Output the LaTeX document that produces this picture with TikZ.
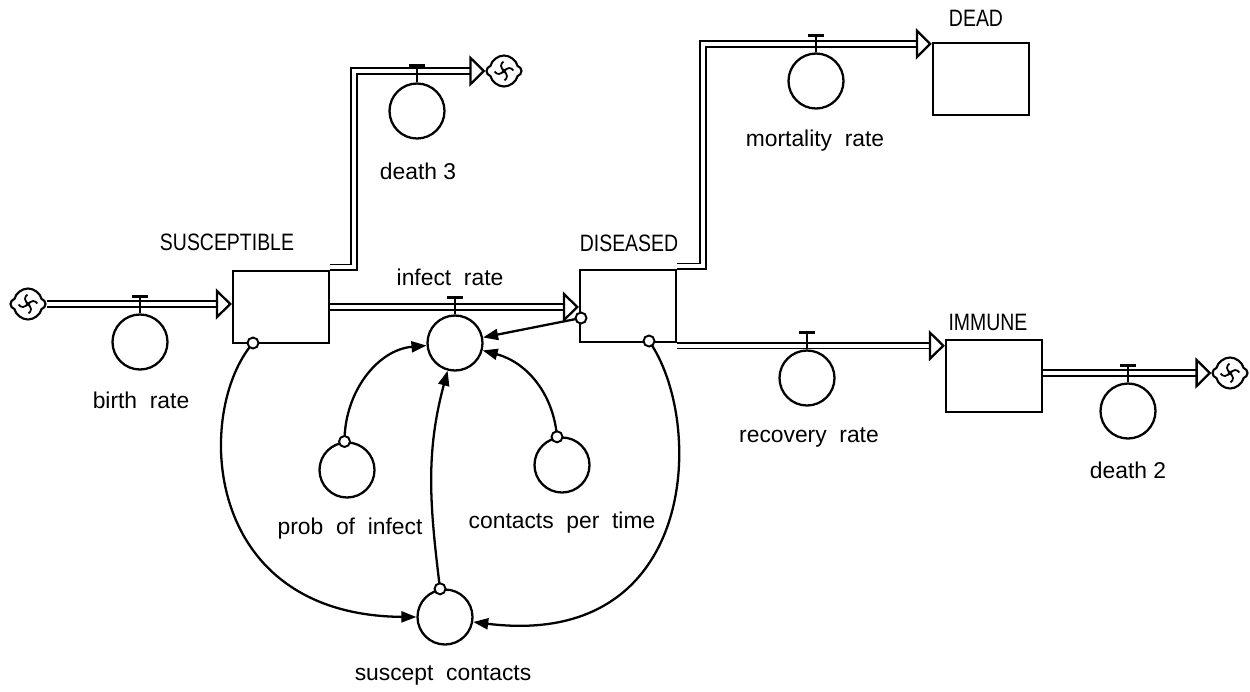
\documentclass[tikz,border=0pt]{standalone}
\usepackage{fontspec}
\setmainfont{Liberation Sans}
\newfontfamily\stockfont[FakeStretch=0.82]{Liberation Sans}
\usetikzlibrary{arrows.meta,shapes.symbols}

\tikzset{
  stock/.style={draw, rectangle, line width=1.3pt, minimum width=1.92cm, minimum height=1.43cm, inner sep=0pt},
  conv/.style={draw, circle, line width=1.3pt, minimum size=1.1cm, inner sep=0pt},
  src/.style={draw, cloud, cloud puffs=4, cloud puff arc=150, aspect=1.1, line width=1.2pt, minimum width=0.7cm, minimum height=0.62cm, inner sep=0pt},
  tap/.style={draw, circle, line width=1.1pt, fill=white, minimum size=0.22cm, inner sep=0pt},
  flow/.style={double, double distance=2.2pt, line width=1pt, line join=miter, -{Triangle[open, length=0.32cm, width=0.62cm, line width=1.3pt]}},
  link/.style={line width=1.3pt, -{Triangle[length=0.3cm, width=0.22cm]}},
  lbl/.style={font=\fontsize{13}{15}\selectfont, inner sep=1pt},
  slbl/.style={font=\stockfont\fontsize{13.5}{15}\selectfont, inner sep=1pt},
}

\begin{document}
\begin{tikzpicture}[x=0.02cm, y=0.02cm]
  \useasboundingbox (0,0) rectangle (1250,-691);

  % Stocks
  \node[stock] (susc) at (281,-307) {};
  \node[slbl] (suscL) at (227,-242) {SUSCEPTIBLE};
  \node[stock] (dis) at (628,-306) {};
  \node[slbl] (disL) at (629,-243) {DISEASED};
  \node[stock] (dead) at (981,-79) {};
  \node[slbl] (deadL) at (976,-18) {DEAD};
  \node[stock] (imm) at (994,-376) {};
  \node[slbl] (immL) at (988,-322) {IMMUNE};

  % Sources and sinks
  \node[src] (cB) at (28,-304) {};
  \node[src] (cD3) at (504,-71) {};
  \node[src] (cD2) at (1230,-373) {};
  \foreach \c in {cB,cD3,cD2}
    \foreach \a in {0,90,180,270}
      \draw[line width=1pt] (\c.center) ++(\a:0.04cm) arc[start angle=\a-90, delta angle=-150, radius=0.1cm];

  % Flows
  \draw[flow] (cB.east) -- (cB.east -| susc.west);
  \draw[flow] ([yshift=1.6pt]susc.north east) -- ++(24,0) |- (cD3.west);
  \draw[flow] (susc.east) -- (susc.east -| dis.west);
  \draw[flow] ([yshift=1.6pt]dis.north east) -- ++(26,0) |- ([yshift=-1pt]dead.north west);
  \draw[flow] ([yshift=-1.6pt]dis.south east) -- ([yshift=-1.6pt]dis.south east -| imm.west);
  \draw[flow] (imm.east |- cD2) -- (cD2.west);

  % Rates on the flows
  \node[conv] (brate) at (140,-342) {};
  \node[lbl] (brateL) at (141,-400) {birth~~rate};
  \node[conv] (dthree) at (417,-111) {};
  \node[lbl] (dthreeL) at (418,-171) {death 3};
  \node[conv] (irate) at (455,-343) {};
  \node[lbl] (irateL) at (450,-277) {infect~~rate};
  \node[conv] (mrate) at (816,-81) {};
  \node[lbl] (mrateL) at (815,-141) {mortality~~rate};
  \node[conv] (rrate) at (807,-378) {};
  \node[lbl] (rrateL) at (809,-437) {recovery~~rate};
  \node[conv] (dtwo) at (1128,-411) {};
  \node[lbl] (dtwoL) at (1128,-470) {death 2};
  \foreach \v in {brate,dthree,irate,mrate,rrate,dtwo} {
    \draw[line width=1pt] (\v.north) -- ++(0,17);
    \draw[line width=2pt] ([shift={(-8,17)}]\v.north) -- ++(16,0);
  }

  % Auxiliaries
  \node[conv] (prob) at (347,-470) {};
  \node[lbl] (probL) at (350,-529) {prob~~of~~infect};
  \node[conv] (cont) at (562,-465) {};
  \node[lbl] (contL) at (562,-523) {contacts~~per~~time};
  \node[conv] (scon) at (445,-617) {};
  \node[lbl] (sconL) at (443,-675) {suscept~~contacts};

  % Connectors
  \coordinate (sOut) at (253,-343);
  \coordinate (dBot) at (649,-341);
  \coordinate (dLeft) at (581,-318);
  \coordinate (pOut) at (prob.95);
  \coordinate (cOut) at (cont.100);
  \coordinate (scOut) at (scon.100);
  \draw[link] (sOut) .. controls (195,-410) and (200,-615) .. (scon.west);
  \draw[link] (dBot) .. controls (705,-420) and (700,-650) .. (scon.-10);
  \draw[link] (dLeft) -- (irate);
  \draw[link] (pOut) to[out=90, in=185] (irate);
  \draw[link] (cOut) to[out=95, in=-15] (irate);
  \draw[link] (scOut) to[out=97, in=-105] (irate);
  \foreach \t in {sOut,dBot,dLeft,pOut,cOut,scOut}
    \node[tap] (\t T) at (\t) {};
\end{tikzpicture}
\end{document}
